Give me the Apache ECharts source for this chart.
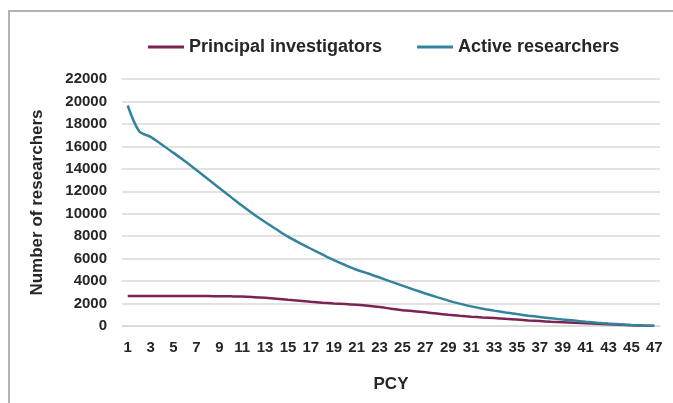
<!DOCTYPE html>
<html>
<head>
<meta charset="utf-8">
<script src="https://cdn.jsdelivr.net/npm/echarts@6/dist/echarts.min.js"></script>
<style>
  html, body { margin: 0; padding: 0; background: #fff; }
  #chart { width: 673px; height: 403px; }
</style>
</head>
<body>
<div id="chart"></div>
<script>
// PCY categories 1..47
var pcy = [
  '1', '2', '3', '4', '5', '6', '7', '8', '9', '10',
  '11', '12', '13', '14', '15', '16', '17', '18', '19', '20',
  '21', '22', '23', '24', '25', '26', '27', '28', '29', '30',
  '31', '32', '33', '34', '35', '36', '37', '38', '39', '40',
  '41', '42', '43', '44', '45', '46', '47'
]

var principalInvestigators = [
  2680, 2680, 2680, 2680, 2680, 2675, 2670, 2665, 2655, 2640,
  2620, 2570, 2510, 2430, 2340, 2250, 2160, 2080, 2010, 1950,
  1890, 1810, 1700, 1540, 1410, 1320, 1220, 1110, 1000, 910,
  830, 760, 710, 640, 570, 500, 440, 380, 330, 280,
  235, 190, 150, 110, 70, 40, 20
]

var activeResearchers = [
  19640, 17350, 16850, 16150, 15420, 14680, 13900, 13100, 12300, 11500,
  10700, 9950, 9260, 8600, 7960, 7410, 6880, 6370, 5870, 5430,
  5010, 4680, 4320, 3950, 3600, 3240, 2900, 2570, 2260, 1990,
  1750, 1540, 1370, 1210, 1060, 920, 800, 690, 580, 480,
  380, 290, 215, 150, 90, 45, 10
]

var seriesNames = ['Principal investigators', 'Active researchers']
var seriesColors = ['#7c2352', '#31849b']

var font = 'Liberation Sans'

var chart = echarts.init(document.getElementById('chart'))
chart.setOption({
  animation: false,
  backgroundColor: '#fff',
  graphic: [
    {
      type: 'rect',
      shape: { x: 9, y: 11, width: 800, height: 500 },
      style: { fill: 'none', stroke: '#b3b3b3', lineWidth: 2 }
    }
  ],
  legend: {
    top: 33,
    left: 143,
    itemWidth: 36,
    itemHeight: 3,
    itemGap: 35,
    icon: 'rect',
    textStyle: {
      fontFamily: font,
      fontWeight: 'bold',
      fontSize: 18,
      color: '#262626'
    },
    data: seriesNames
  },
  grid: {
    left: 122,
    right: 13,
    top: 79,
    bottom: 77
  },
  xAxis: {
    type: 'category',
    data: pcy,
    boundaryGap: true,
    name: 'PCY',
    nameLocation: 'middle',
    nameGap: 50,
    nameTextStyle: { fontFamily: font, fontWeight: 'bold', fontSize: 17, color: '#262626' },
    axisLine: { lineStyle: { color: '#d9d9d9', width: 1.5 } },
    axisTick: { show: false },
    axisLabel: {
      interval: 1,
      margin: 14,
      fontFamily: font,
      fontWeight: 'bold',
      fontSize: 15,
      color: '#262626'
    }
  },
  yAxis: {
    type: 'value',
    min: 0,
    max: 22000,
    interval: 2000,
    name: 'Number of researchers',
    nameLocation: 'middle',
    nameGap: 76,
    nameTextStyle: { fontFamily: font, fontWeight: 'bold', fontSize: 17, color: '#262626' },
    axisLine: { show: false },
    axisTick: { show: false },
    axisLabel: {
      margin: 15,
      fontFamily: font,
      fontWeight: 'bold',
      fontSize: 15,
      color: '#262626',
      formatter: function(v) { return String(v) }
    },
    splitLine: { lineStyle: { color: '#d9d9d9', width: 1.5 } }
  },
  series: [
    {
      name: seriesNames[0],
      type: 'line',
      data: principalInvestigators,
      smooth: 0.3,
      showSymbol: false,
      color: seriesColors[0],
      lineStyle: { color: seriesColors[0], width: 2.5 }
    },
    {
      name: seriesNames[1],
      type: 'line',
      data: activeResearchers,
      smooth: 0.3,
      showSymbol: false,
      color: seriesColors[1],
      lineStyle: { color: seriesColors[1], width: 2.5 }
    }
  ]
})
</script>
</body>
</html>
